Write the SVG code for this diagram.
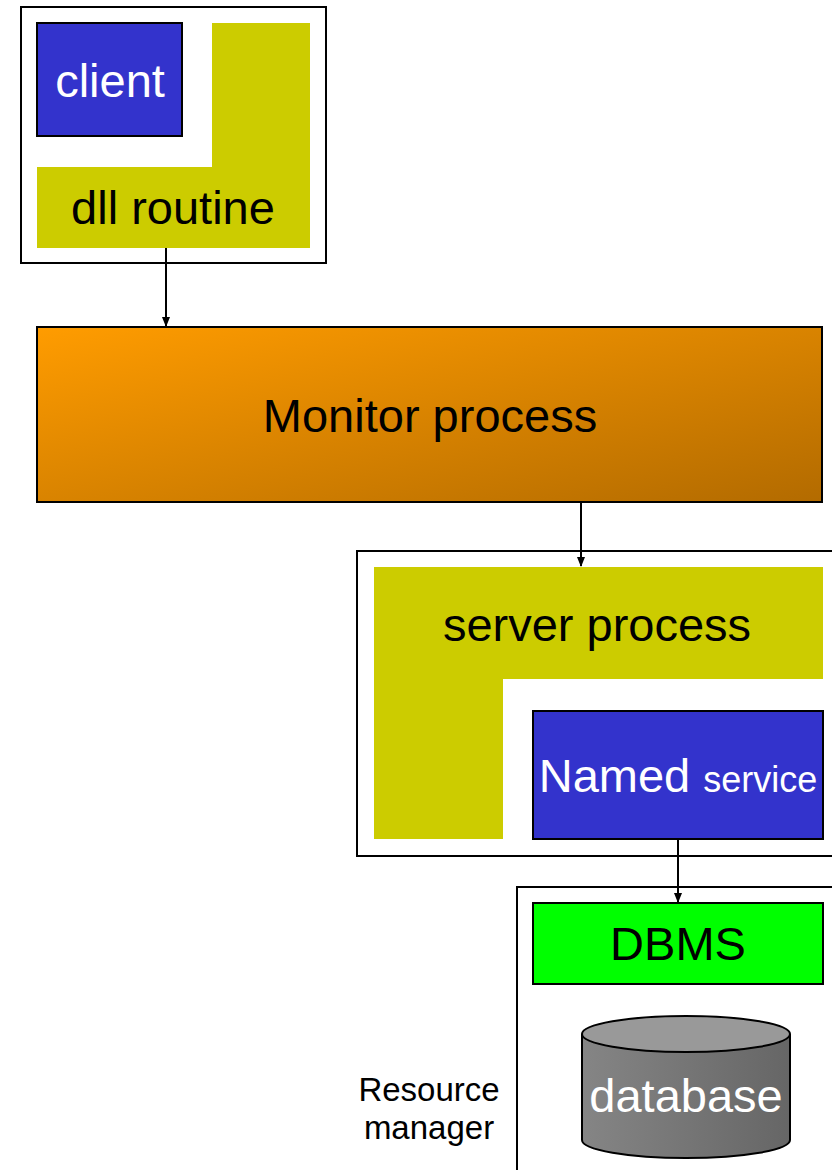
<svg xmlns="http://www.w3.org/2000/svg" width="832" height="1170" viewBox="0 0 832 1170">
<style>
.frame{fill:#fff;stroke:#000;stroke-width:2}
.yel{fill:#CCCC00;stroke:none}
.blue{fill:#3333CC;stroke:#000;stroke-width:2}
.t{font-family:"Liberation Sans",Arial,sans-serif;font-size:47px;text-anchor:middle}
.w{fill:#fff}
.k{fill:#000}
.conn{stroke:#000;stroke-width:2;fill:none;marker-end:url(#ah)}
</style>
<defs>
<marker id="ah" markerWidth="10" markerHeight="10" refX="9" refY="5" orient="auto" markerUnits="userSpaceOnUse">
<path d="M0,1 L10,5 L0,9 Z" fill="#000"/>
</marker>
<linearGradient id="og" x1="0" y1="0" x2="1" y2="1">
<stop offset="0" stop-color="#FF9C00"/>
<stop offset="1" stop-color="#B36B00"/>
</linearGradient>
<linearGradient id="cyl" x1="0" y1="0" x2="1" y2="0">
<stop offset="0" stop-color="#858585"/>
<stop offset="1" stop-color="#666666"/>
</linearGradient>
</defs>
<g id="client-container">
<rect class="frame" x="21" y="7" width="305" height="256"/>
<path class="yel" d="M212,23 H310 V248 H37 V167 H212 Z"/>
<rect class="blue" x="37" y="23" width="145" height="113"/>
<text class="t w" x="110" y="97">client</text>
<text class="t k" x="173" y="224">dll routine</text>
</g>
<g id="monitor">
<rect x="37" y="327" width="785" height="175" fill="url(#og)" stroke="#000" stroke-width="2"/>
<text class="t k" x="430" y="432">Monitor process</text>
</g>
<g id="server-container">
<rect class="frame" x="357" y="551" width="480" height="305"/>
<path class="yel" d="M374,567 H823 V679 H503 V839 H374 Z"/>
<rect class="blue" x="533" y="711" width="290" height="128"/>
<text class="t w" x="678" y="792">Named <tspan font-size="36px">service</tspan></text>
<text class="t k" x="597" y="641">server process</text>
</g>
<g id="resource-manager">
<rect class="frame" x="517" y="887" width="320" height="290"/>
<rect x="533" y="903" width="290" height="81" fill="#00FF00" stroke="#000" stroke-width="2"/>
<text class="t k" x="678" y="960">DBMS</text>
<path d="M582,1034 V1140 A104,18 0 0 0 790,1140 V1034" fill="url(#cyl)" stroke="#000" stroke-width="2"/>
<ellipse cx="686" cy="1034" rx="104" ry="18" fill="#999999" stroke="#000" stroke-width="2"/>
<text class="t w" x="686" y="1112">database</text>
<text class="t k" x="429" y="1101" style="font-size:33px">Resource</text>
<text class="t k" x="429" y="1139" style="font-size:33px">manager</text>
</g>
<g id="connectors">
<line class="conn" x1="166" y1="248" x2="166" y2="326"/>
<line class="conn" x1="581" y1="503" x2="581" y2="566"/>
<line class="conn" x1="678" y1="840" x2="678" y2="902"/>
</g>
</svg>
